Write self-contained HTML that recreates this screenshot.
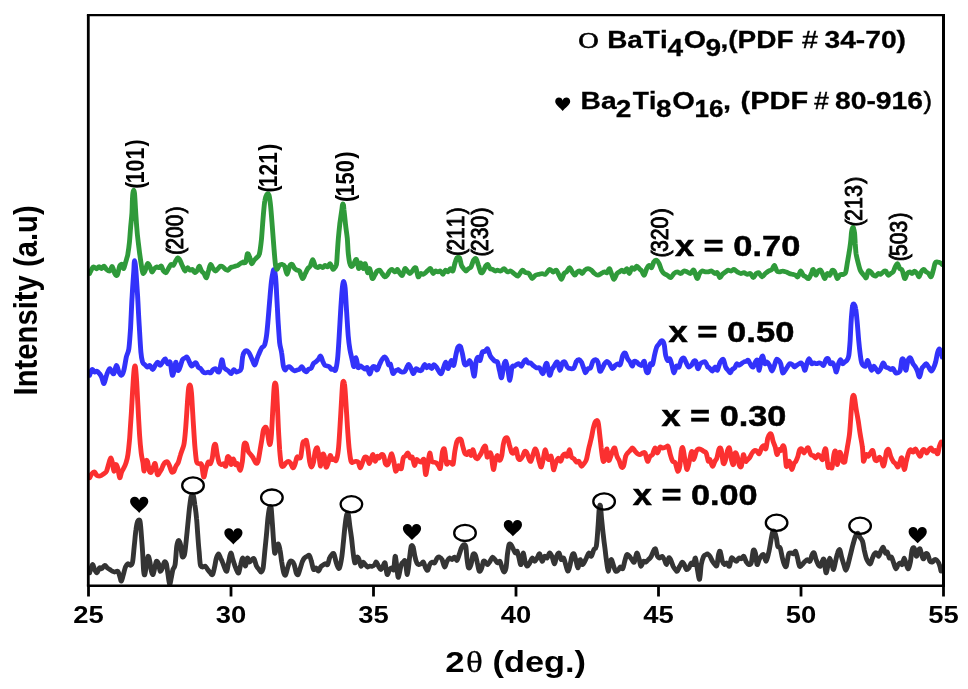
<!DOCTYPE html>
<html><head><meta charset="utf-8"><title>XRD</title>
<style>
html,body{margin:0;padding:0;background:#fff;overflow:hidden;}
svg{display:block;will-change:transform;}
text{font-family:"Liberation Sans",sans-serif;fill:#000;font-kerning:none;}
.b{font-weight:bold;}
.r{font-weight:normal;}
.s{font-family:"Liberation Serif",serif;font-weight:normal;}
</style></head><body>
<svg width="968" height="689" viewBox="0 0 968 689">
<rect width="968" height="689" fill="#fff"/>
<g transform="scale(1.03,1)">
<path d="M87 572.8C87.5 571.5 89 565.1 89.7 564.6C90.5 564 91.1 568.2 91.8 569.5C92.5 570.8 93.3 573.1 94.1 572.8C94.8 572.6 95.9 568.5 96.6 567.9C97.4 567.2 97.8 569.1 98.6 568.7C99.4 568.3 100.9 565.5 101.8 565.4C102.7 565.3 103.4 567.2 104.2 567.9C105 568.5 105.8 569 106.6 569.5C107.4 570 108.2 570.8 109 571.2C109.8 571.6 110.6 572 111.4 572C112.3 572 113.5 570.5 114.3 571.2C115.1 571.8 115.7 574.5 116.2 576.1C116.8 577.7 117.3 581.4 117.8 581.1C118.4 580.8 119.1 576.7 119.8 574.5C120.4 572.2 121.1 568.8 121.8 567C122.6 565.3 123.5 564 124.2 563.7C125 563.5 125.9 565.7 126.7 565.4C127.4 565.1 128.2 565.1 128.7 562.1C129.3 559 129.8 551.5 130.3 546.4C130.9 541.2 131.4 533.8 132 529.9C132.5 525.9 132.9 523 133.6 521.6C134.2 520.1 135.2 518.9 135.8 520.8C136.4 522.6 136.7 528.3 137.1 533.2C137.5 538 138 545.3 138.4 551.3C138.8 557.4 139.1 567.5 139.5 571.2C139.9 574.9 140.2 575.5 140.6 574.5C141.1 573.4 141.7 567.5 142.2 564.6C142.7 561.7 143.3 556.8 143.8 556.3C144.3 555.8 144.9 558.9 145.4 561.3C145.9 563.6 146.5 569.1 147 571.2C147.5 573.3 148.1 575 148.6 574.5C149.2 574 149.7 570 150.2 567.9C150.8 565.8 151.3 561.9 151.8 561.3C152.4 560.6 153.3 562.1 153.9 563.7C154.5 565.3 154.9 570.5 155.5 571.2C156.1 571.8 157 569.3 157.6 567.9C158.3 566.4 158.9 562.7 159.6 562.1C160.2 561.4 160.9 561.8 161.5 563.7C162 565.7 162.6 571.2 163.1 574.5C163.6 577.8 164.2 583.9 164.7 584.4C165.2 584.9 165.8 580.2 166.3 577.8C166.8 575.4 167.3 571.6 167.9 569.5C168.5 567.4 169.4 568.3 170 564.6C170.6 560.9 171.1 550.2 171.6 546.4C172.1 542.5 172.6 540.9 173.2 540.6C173.8 540.3 174.7 542.2 175.3 544.7C175.9 547.2 176.3 554.7 176.9 556.3C177.5 557.9 178.5 557 179.1 554.6C179.7 552.3 180.2 546.2 180.7 541.4C181.2 536.7 181.8 530.2 182.3 524.9C182.9 519.6 183.4 512.9 183.9 508.4C184.5 503.9 185 498.9 185.5 496.8C186.1 494.7 187 493.8 187.6 495.1C188.2 496.5 188.7 501.4 189.2 505.1C189.8 508.8 190.4 513.5 190.8 518.3C191.3 523 191.6 529.5 192 534.8C192.4 540.1 192.8 546.6 193.3 551.3C193.7 556.1 194 562 194.5 564.6C195.1 567.1 196 566.8 196.8 567C197.6 567.3 198.6 565.8 199.4 566.2C200.1 566.6 200.8 568.5 201.6 569.5C202.4 570.6 203.4 572 204.2 572.8C204.9 573.6 205.7 575.5 206.4 574.5C207.1 573.4 207.9 568.9 208.5 566.2C209.1 563.6 209.5 559.9 210.1 558C210.7 556 211.5 553.8 212.2 553.8C212.8 553.8 213.5 556.6 214.1 558C214.7 559.3 215.4 560.5 216 562.1C216.7 563.7 217.5 566.4 218.1 567.9C218.8 569.3 219.6 572.2 220.2 571.2C220.9 570.1 221.5 564.2 222.1 561.3C222.8 558.3 223.4 553.3 224.1 553C224.7 552.7 225.5 557.5 226.1 559.6C226.8 561.7 227.6 564.4 228.2 566.2C228.9 568.1 229.6 570.1 230.2 571.2C230.7 572.2 231.2 573.9 231.8 572.8C232.3 571.8 233 566.9 233.7 564.6C234.3 562.2 235.1 557.7 235.8 558C236.5 558.2 237.4 566.2 238.1 566.2C238.9 566.2 239.6 558.6 240.2 558C240.9 557.3 241.6 561.8 242.3 562.1C243 562.3 243.9 560.1 244.6 559.6C245.3 559.1 245.9 557.7 246.7 558.8C247.4 559.8 248.3 564.5 249.1 566.2C249.8 567.9 250.7 568.6 251.5 569.5C252.2 570.4 252.9 572.3 253.6 572C254.2 571.7 254.9 571.2 255.5 567.9C256 564.6 256.6 556.6 257.1 551.3C257.6 546 258.2 540.4 258.7 534.8C259.2 529.3 259.8 520.9 260.3 516.6C260.8 512.4 261.1 509.8 261.6 508.4C262 506.9 262.7 505.4 263.2 507.5C263.6 509.7 263.9 516.7 264.3 521.6C264.7 526.5 265 533.1 265.4 538.1C265.8 543.1 266.2 551.4 266.7 553C267.2 554.6 267.7 549.5 268.3 548C268.9 546.6 269.7 543.6 270.2 543.9C270.8 544.2 271.3 546.9 271.8 549.7C272.4 552.5 272.9 557.8 273.4 561.3C274 564.7 274.5 568.9 275.1 571.2C275.6 573.4 276.5 575.8 277.1 575.3C277.8 574.8 278.6 570 279.2 567.9C279.9 565.8 280.5 563.1 281.2 562.1C281.8 561 282.8 560.9 283.6 561.3C284.3 561.7 285 562.7 285.6 564.6C286.3 566.4 287 571.2 287.6 572.8C288.2 574.4 288.9 575.3 289.5 574.5C290.1 573.7 290.9 570 291.6 567.9C292.3 565.8 293 562.8 293.7 561.3C294.3 559.7 294.9 558.7 295.6 558C296.3 557.2 297.2 556.7 298 556.3C298.8 555.9 299.7 554.7 300.4 555.5C301.1 556.3 301.7 559 302.3 561.3C303 563.5 303.7 568.5 304.4 569.5C305.1 570.6 306.1 567.6 306.8 567.9C307.6 568.1 308.5 571.3 309.2 571.2C310 571 310.7 568 311.3 567C312 566.1 312.6 565.9 313.2 565.4C313.9 564.9 314.9 563.9 315.7 563.7C316.4 563.6 317.4 565.5 318.1 564.6C318.8 563.6 319.3 559.5 320 558C320.6 556.4 321.4 555.3 322.1 554.6C322.7 554 323.5 552.8 324.2 553.8C324.8 554.9 325.5 559.1 326.1 561.3C326.7 563.4 327.4 566 328 567C328.6 568.1 329 569.3 329.6 567.9C330.2 566.4 331.1 561.9 331.7 558C332.3 554 332.8 548.1 333.3 543.1C333.8 538 334.4 531 334.9 526.5C335.4 522 336 517 336.5 515C337 513 337.6 512.3 338.1 514.1C338.6 516 339.2 522.7 339.7 526.5C340.2 530.4 340.8 533.9 341.3 538.1C341.8 542.3 342.4 549 342.9 553C343.4 557 343.9 562.2 344.5 562.9C345.1 563.6 346 557.7 346.6 557.1C347.3 556.6 347.9 558.1 348.6 559.6C349.2 561.1 349.8 565.8 350.5 566.2C351.1 566.6 351.9 562.3 352.6 562.1C353.2 561.8 354 563.8 354.6 564.6C355.3 565.4 356.2 566.8 356.9 567C357.6 567.3 358.3 566.3 359 566.2C359.7 566.1 360.6 566.5 361.4 566.2C362.2 566 363.2 565.2 363.8 564.6C364.4 563.9 364.8 561.8 365.4 562.1C366 562.3 366.8 565 367.5 566.2C368.2 567.4 369 569.5 369.7 569.5C370.4 569.5 371.2 567.3 371.8 566.2C372.5 565.2 373.3 561.6 373.9 562.9C374.5 564.2 375.1 573.4 375.8 574.5C376.5 575.5 377.5 570.6 378.2 569.5C379 568.5 379.7 567.9 380.3 567.9C381 567.9 381.7 571.4 382.3 569.5C382.8 567.7 383.2 555.2 383.9 556.3C384.5 557.4 385.7 573.2 386.3 576.1C386.8 579 387 576.3 387.5 574.5C388 572.6 389 566.5 389.6 564.6C390.2 562.6 390.9 562.6 391.5 562.1C392.1 561.6 392.8 559.3 393.4 561.3C394.1 563.2 394.9 575 395.5 574.5C396.2 574 397 562.4 397.6 558C398.2 553.5 398.7 548.1 399.2 546.4C399.8 544.7 400.6 545.6 401.1 547.2C401.7 548.8 402.2 553.8 402.8 556.3C403.3 558.8 404 561.6 404.7 562.9C405.3 564.2 406 564.4 406.8 564.6C407.5 564.7 408.5 564.1 409.2 563.7C409.9 563.3 410.5 561.4 411.1 562.1C411.7 562.7 412.5 566.5 413.2 567.9C413.9 569.2 414.6 570.9 415.3 570.3C415.9 569.8 416.5 565.9 417.2 564.6C417.9 563.2 418.8 562.3 419.6 562.1C420.4 561.8 421.2 563.6 422 562.9C422.8 562.2 423.6 558.9 424.4 558C425.2 557 426.1 556.9 426.8 557.1C427.6 557.4 428.5 558 429.2 559.6C430 561.2 430.9 566.8 431.6 567C432.4 567.3 433.3 562.7 434 561.3C434.8 559.8 435.7 558.2 436.5 558C437.2 557.7 438.1 559.7 438.9 559.6C439.6 559.5 440.5 557 441.3 557.1C442 557.3 443 560.8 443.7 560.4C444.4 560 445.1 556.6 445.8 554.6C446.5 552.7 447.3 549.6 448 548C448.7 546.4 449.4 545 450.1 544.7C450.8 544.5 451.7 544.3 452.2 546.4C452.7 548.5 452.9 554.5 453.3 558C453.7 561.4 454.3 566.8 454.9 567.9C455.5 568.9 456.6 566.7 457.3 564.6C458 562.4 458.6 556.2 459.2 554.6C459.9 553.1 460.7 553.3 461.3 554.6C462 556 462.8 560.3 463.4 562.9C464.1 565.6 464.6 570.4 465.3 571.2C466 572 467.1 569.5 467.7 567.9C468.4 566.3 468.8 562.2 469.3 561.3C469.9 560.3 470.8 561.6 471.4 562.1C472.1 562.6 472.7 564.7 473.4 564.6C474.1 564.4 475 562.4 475.8 561.3C476.5 560.1 477.4 557.4 478.2 557.1C478.9 556.9 479.8 558.7 480.6 559.6C481.4 560.5 482.2 562.6 483 562.9C483.8 563.2 484.7 560.5 485.4 561.3C486.1 562 486.8 566.1 487.5 567.9C488.1 569.6 488.8 572 489.4 572C490 572 490.8 570.6 491.3 567.9C491.8 565.1 492.2 558.3 492.6 554.6C493.1 550.9 493.7 546.3 494.2 544.7C494.8 543.1 495.5 544.1 496.1 544.7C496.8 545.4 497.6 547.5 498.2 548.9C498.9 550.2 499.7 552.6 500.3 553C501 553.4 501.7 550.5 502.2 551.3C502.8 552.1 503.3 555.8 503.9 558C504.4 560.1 505.1 565.4 505.8 564.6C506.4 563.8 507.2 553.4 507.9 553C508.5 552.6 509.3 560 509.9 562.1C510.6 564.2 511.2 566.1 511.9 566.2C512.6 566.3 513.5 564.2 514.3 562.9C515.1 561.6 515.9 558.2 516.7 558C517.5 557.7 518.3 561.3 519.1 561.3C519.9 561.3 520.7 559.1 521.5 558C522.3 556.8 523.1 553.3 523.9 553.8C524.7 554.3 525.5 560.9 526.3 561.3C527.1 561.7 528 556.8 528.7 556.3C529.5 555.8 530.4 558.5 531.1 558C531.9 557.4 532.8 553.3 533.5 553C534.3 552.7 535.5 555.5 535.9 556.3C536.4 557.1 536 556.8 536.4 558C536.8 559.1 537.8 564 538.5 563.7C539.1 563.5 539.7 558 540.4 556.3C541.1 554.6 542.1 552.5 542.8 553C543.5 553.5 544.2 558.8 544.9 559.6C545.6 560.4 546.4 557.2 547.1 558C547.8 558.7 548.6 562.4 549.2 564.6C549.9 566.7 550.7 570.9 551.3 571.2C552 571.4 552.6 568.6 553.2 566.2C553.9 563.8 554.5 558.3 555.2 556.3C555.8 554.3 556.6 553 557.2 553.8C557.9 554.6 558.7 559 559.3 561.3C560 563.5 560.6 568.1 561.3 567.9C561.9 567.6 562.5 560.1 563.2 559.6C563.8 559.1 564.6 564.2 565.3 564.6C565.9 565 566.7 563.1 567.4 562.1C568 561 568.6 559.4 569.3 558C570 556.5 570.9 553.3 571.7 553C572.5 552.7 573.3 556.8 574.1 556.3C574.9 555.8 575.7 551.3 576.5 549.7C577.3 548.1 578.3 549.8 578.9 546.4C579.6 542.9 580.1 534.3 580.5 528.2C581 522.1 581.4 511.9 581.8 508.4C582.2 504.8 582.6 504.3 582.9 505.9C583.3 507.5 583.6 513.7 584 518.3C584.5 522.9 585.1 530 585.7 534.8C586.2 539.6 586.7 543.8 587.3 548C587.8 552.3 588.3 557.6 588.9 561.3C589.4 565 590 570.9 590.5 571.2C591 571.4 591.6 564.8 592.1 562.9C592.6 561.1 593.1 559.1 593.7 559.6C594.3 560.1 595.1 564.4 595.8 566.2C596.4 568.1 597.2 570.5 597.8 571.2C598.5 571.8 599.4 571 600.1 570.3C600.8 569.7 601.5 567.3 602.2 567C602.9 566.8 603.9 569.6 604.6 568.7C605.3 567.8 605.9 563.5 606.5 561.3C607.2 559 607.9 555.4 608.6 554.6C609.3 553.9 610.2 555.5 611 556.3C611.8 557.1 612.6 558.7 613.4 559.6C614.2 560.5 615.1 563.1 615.8 562.1C616.6 561 617.5 553.4 618.2 553C619 552.6 620 557.5 620.6 559.6C621.3 561.7 621.6 566 622.2 566.2C622.9 566.5 623.9 561.9 624.6 561.3C625.4 560.6 626.3 562.3 627.1 562.1C627.8 561.8 628.7 560.4 629.5 559.6C630.2 558.8 631.1 558.4 631.9 557.1C632.6 555.8 633.6 552.7 634.3 551.3C635 550 635.7 548.1 636.4 548.9C637 549.7 637.6 554.8 638.3 556.3C639 557.8 640 558 640.7 558C641.4 558 642.1 556 642.8 556.3C643.5 556.6 644.3 558.3 645 559.6C645.7 560.9 646.4 564.8 647.1 564.6C647.8 564.3 648.6 558.7 649.2 558C649.8 557.2 650.4 558.3 651.1 559.6C651.8 560.9 652.8 564.6 653.5 566.2C654.3 567.8 655 568.7 655.6 569.5C656.3 570.3 656.9 571.7 657.5 571.2C658.2 570.6 659.2 567.7 660 566.2C660.7 564.8 661.7 562.3 662.4 562.1C663.1 561.8 663.6 563.4 664.3 564.6C664.9 565.8 665.7 569 666.4 569.5C667.1 570 668 568.9 668.8 567.9C669.5 566.8 670.5 563.4 671.2 562.9C671.9 562.4 672.6 565.4 673.3 564.6C673.9 563.8 674.6 557.2 675.2 558C675.8 558.7 676.5 566.1 677.1 569.5C677.8 573 678.6 580.2 679.2 579.4C679.8 578.6 680.2 568.3 680.8 564.6C681.5 560.9 682.5 557.9 683.2 556.3C684 554.7 685 555 685.6 554.6C686.2 554.2 686.3 553.6 686.9 553.8C687.5 554.1 688.5 555.1 689.3 556.3C690.1 557.5 690.9 559.9 691.7 561.3C692.5 562.6 693.4 563.9 694.1 564.6C694.8 565.2 695.5 567 696 565.4C696.6 563.8 697.1 556.9 697.6 554.6C698.1 552.4 698.6 550.3 699.2 551.3C699.8 552.4 700.6 559.1 701.3 561.3C702 563.4 702.7 564.3 703.4 564.6C704.1 564.8 704.9 562.6 705.6 562.9C706.4 563.2 707.5 567 708.2 566.2C708.9 565.4 709.4 559 710.1 558C710.8 556.9 711.8 559.1 712.5 559.6C713.3 560.1 714.2 561.5 715 561.3C715.7 561 716.6 558.3 717.4 558C718.1 557.6 719 559 719.8 558.8C720.5 558.5 721.4 555.8 722.2 556.3C722.9 556.8 723.8 560.8 724.6 562.1C725.4 563.4 726.2 564.4 727 564.6C727.8 564.7 728.7 565.2 729.4 562.9C730.1 560.7 730.7 552.1 731.3 550.5C732 548.9 732.8 550.7 733.4 553C734 555.2 734.4 563.5 735 564.6C735.6 565.6 736.5 560.9 737.1 559.6C737.7 558.3 738.3 557.1 739 556.3C739.7 555.5 740.7 553.9 741.4 554.6C742.2 555.4 743.1 561.5 743.8 561.3C744.6 561 745.5 556.2 746.2 553C747 549.8 747.7 544.9 748.3 541.4C749 538 749.6 533 750.3 531.5C750.9 530 751.6 531.3 752.2 532.3C752.8 533.4 753.3 535.9 753.8 538.1C754.3 540.4 754.5 544.8 755.1 546.4C755.7 548 756.8 546.2 757.5 548C758.2 549.9 758.9 555.3 759.6 558C760.2 560.6 760.9 563.2 761.5 564.6C762.1 565.9 762.8 567.8 763.4 566.2C764.1 564.6 764.8 556.8 765.5 554.6C766.2 552.5 767.1 553.1 767.9 553C768.7 552.9 769.6 554.1 770.3 553.8C771 553.6 771.8 550.7 772.4 551.3C773 552 773.7 555.6 774.3 558C774.9 560.3 775.5 565.2 776.3 566.2C777 567.3 778 565.4 778.8 564.6C779.7 563.8 780.7 562 781.6 561.3C782.4 560.5 783.2 559.6 784 559.6C784.7 559.6 785.6 562 786.4 561.3C787.1 560.5 787.8 556 788.5 554.6C789.1 553.3 789.8 552.2 790.4 553C791 553.8 791.7 557.8 792.3 559.6C792.9 561.5 793.7 563.5 794.4 564.6C795.1 565.6 795.8 566.7 796.5 566.2C797.1 565.7 797.8 562.3 798.4 561.3C799 560.2 799.4 557.8 800 559.6C800.6 561.5 801.3 572 801.9 572.8C802.6 573.6 803.4 566.9 804 564.6C804.6 562.2 805 558 805.6 558C806.2 558 807.1 562.7 807.7 564.6C808.3 566.4 808.8 570 809.3 569.5C809.9 569 810.6 563.9 811.2 561.3C811.9 558.6 812.5 554.8 813.2 553C813.8 551.1 814.6 548.9 815.3 549.7C815.9 550.5 816.7 555.6 817.3 558C818 560.3 818.6 562.6 819.3 564.6C819.9 566.5 820.5 570.3 821.2 570.3C821.8 570.3 822.6 567.1 823.3 564.6C824 562 824.9 557.8 825.7 554.6C826.5 551.5 827.3 547.6 828.1 544.7C828.9 541.8 829.7 538.3 830.5 536.5C831.3 534.6 832.2 533 832.9 533.2C833.6 533.3 834.3 536 835 537.3C835.7 538.6 836.8 539.4 837.4 541.4C838.1 543.4 838.5 547 839 549.7C839.6 552.3 840.3 556 841 558C841.6 559.9 842.4 561.2 843 562.1C843.7 563 844.5 564.4 845.1 563.7C845.8 563.1 846.4 559.5 847.1 558C847.7 556.4 848.3 554.6 849 553.8C849.6 553 850.4 552.6 851.1 553C851.7 553.4 852.5 556.6 853.1 556.3C853.8 556 854.4 552.8 855.1 551.3C855.8 549.9 856.8 546.9 857.5 547.2C858.2 547.5 858.9 552.2 859.6 553C860.2 553.8 860.9 551.4 861.5 552.2C862.1 553 862.8 557.2 863.4 558C864.1 558.7 864.8 556.3 865.5 557.1C866.2 557.9 866.9 561.1 867.6 562.9C868.3 564.8 869.1 568.4 869.8 568.7C870.5 569 871.3 565.5 871.9 564.6C872.6 563.6 873.4 562.9 874 562.9C874.7 562.9 875.3 565.4 875.9 564.6C876.6 563.8 877.2 558 877.9 558C878.5 558 879.3 562.8 879.9 564.6C880.6 566.3 881.4 569.2 882 568.7C882.7 568.2 883.4 564.3 884 561.3C884.5 558.2 885 551.8 885.6 549.7C886.1 547.6 886.8 547 887.5 548C888.1 549.1 889 555.8 889.6 556.3C890.2 556.8 890.6 552.5 891.2 551.3C891.8 550.1 892.6 548.1 893.3 548.9C893.9 549.7 894.6 554.7 895.2 556.3C895.8 557.9 896.2 559.2 896.8 558.8C897.4 558.4 898.1 554.5 898.7 553.8C899.4 553.2 900.1 553.5 900.8 554.6C901.5 555.8 902.2 560.1 902.9 561.3C903.6 562.4 904.4 562.3 905.1 562.1C905.8 561.8 906.5 559.9 907.2 559.6C907.9 559.3 908.9 559.6 909.6 560.4C910.4 561.2 911.4 562.8 912 564.6C912.7 566.3 913.4 570.1 913.6 571.2" fill="none" stroke="#343434" stroke-width="4.75" stroke-linejoin="round" stroke-linecap="round"/>
<path d="M87 477.8C87.4 477.1 88.5 474.6 89.3 473.7C90 472.7 91.1 471.7 91.8 472C92.6 472.3 93.1 474.6 93.8 475.3C94.5 476 95.4 476.1 96.2 476.1C96.9 476.1 97.8 475.7 98.6 475.3C99.3 474.9 100.2 474.3 101 473.7C101.7 473 102.7 472.6 103.4 471.2C104.1 469.7 104.7 466.7 105.3 464.6C106 462.4 106.8 458.3 107.4 458C108 457.6 108.5 460 109 462.1C109.5 464.2 110.1 470.8 110.6 471.2C111.1 471.6 111.6 465.1 112.2 464.6C112.8 464 113.7 465.8 114.3 467.9C114.9 470 115.6 477.1 116.2 477.8C116.8 478.4 117.5 473.6 118.1 472C118.8 470.4 119.6 469.3 120.2 467.9C120.9 466.4 121.7 465 122.3 462.9C123 460.8 123.7 458.6 124.2 454.6C124.8 450.7 125.3 444.7 125.9 438.1C126.4 431.5 126.9 421.8 127.5 413.3C128 404.9 128.6 392.4 129.1 385.2C129.5 378.1 130 371.6 130.3 368.7C130.7 365.8 131.1 365.2 131.5 367C131.8 368.9 132.2 374.2 132.6 380.3C133 386.3 133.4 396.3 133.9 405.1C134.3 413.8 135 427.1 135.5 434.8C136 442.5 136.6 448.6 137.1 453C137.6 457.4 138.2 459.2 138.7 462.1C139.2 465 139.5 471.3 140 471.2C140.4 471 141.1 462.8 141.6 461.3C142.1 459.7 142.6 459.7 143.2 461.3C143.7 462.8 144.5 469.5 145.1 471.2C145.7 472.9 146.4 472.8 147 472C147.7 471.2 148.5 467.5 149.1 466.2C149.7 464.9 150.1 462.4 150.7 463.7C151.3 465.1 152.2 473 152.8 474.5C153.5 475.9 154.1 473.6 154.7 472.8C155.4 472 156 470.8 156.7 469.5C157.3 468.2 158.1 465.8 158.7 464.6C159.4 463.4 160.2 462.5 160.8 462.1C161.5 461.7 162.1 461.4 162.8 462.1C163.4 462.7 164 464.6 164.7 466.2C165.3 467.8 166.1 471.2 166.8 472C167.4 472.8 168.2 472.1 168.9 471.2C169.5 470.2 170.1 467.7 170.8 466.2C171.5 464.8 172.5 463.9 173.2 462.1C173.9 460.2 174.6 456.8 175.3 454.6C175.9 452.5 176.6 450.7 177.2 448.9C177.8 447 178.3 446.6 178.8 443.1C179.3 439.5 179.9 433.2 180.4 426.5C180.9 419.9 181.6 408.1 182 401.8C182.5 395.4 182.8 389.4 183.3 386.9C183.8 384.4 184.4 384.5 184.9 386C185.4 387.6 185.8 391.1 186.2 396.8C186.6 402.5 187.1 413.7 187.6 421.6C188.1 429.5 188.7 440 189.2 446.4C189.8 452.7 190.2 458.5 190.8 461.3C191.5 464 192.5 463.2 193.3 463.7C194 464.3 194.9 462.4 195.7 464.6C196.4 466.7 197.1 476.2 197.7 477C198.4 477.8 199 471.9 199.7 469.5C200.4 467.1 201.4 463 202.1 462.1C202.8 461.2 203.5 464.4 204.2 463.7C204.8 463.1 205.5 460.7 206.1 458C206.7 455.2 207.2 448.5 207.7 446.4C208.2 444.3 208.8 443.4 209.3 444.7C209.8 446 210.3 451.7 210.9 454.6C211.5 457.6 212.2 461.3 212.8 462.9C213.5 464.5 214.2 464.4 214.9 464.6C215.6 464.7 216.6 463.5 217.3 463.7C218 464 218.7 467.3 219.2 466.2C219.8 465.2 220.3 458.4 220.9 457.1C221.4 455.8 222.3 456.8 222.9 458C223.5 459.1 224 464.4 224.5 464.6C225.1 464.7 226 458.8 226.6 458.8C227.3 458.8 227.9 463.8 228.6 464.6C229.2 465.4 229.7 462.8 230.5 463.7C231.3 464.7 232.6 470.7 233.4 470.3C234.1 470 234.7 465.4 235.3 461.3C235.9 457.2 236.3 447.5 236.9 444.7C237.5 442 238.4 442.8 239.1 443.9C239.8 445 240.3 449.6 241 451.3C241.7 453.1 242.7 453.6 243.4 454.6C244.2 455.7 245.1 456.6 245.8 458C246.6 459.3 247.5 462.2 248.3 462.9C249 463.6 249.7 463.9 250.3 462.1C251 460.2 251.7 454.9 252.3 451.3C252.9 447.8 253.6 443.2 254.2 439.8C254.8 436.3 255.1 431.8 255.8 429.9C256.5 427.9 257.7 426.6 258.4 427.4C259 428.2 259.4 432 260 434.8C260.5 437.6 261.3 444.7 261.9 444.7C262.5 444.7 263 441.2 263.5 434.8C264 428.5 264.6 413 265.1 405.1C265.6 397.1 265.9 388.4 266.4 385.2C266.9 382 267.6 382.6 268 385.2C268.4 387.9 268.8 395.1 269.1 401.8C269.5 408.4 269.9 418.9 270.2 426.5C270.6 434.2 271.1 443.6 271.5 449.7C272 455.8 272.6 461.9 273.1 464.6C273.7 467.2 274.3 466.5 275.1 466.2C275.8 466 276.9 463.7 277.6 462.9C278.4 462.1 279.2 461.3 279.9 461.3C280.6 461.3 281.2 461.9 282 462.9C282.7 464 283.7 467.6 284.4 467.9C285.1 468.1 285.6 466.3 286.3 464.6C286.9 462.8 287.7 458.2 288.4 457.1C289 456.1 289.9 458.1 290.5 458C291.1 457.8 291.5 458.7 292.1 456.3C292.6 453.9 293.4 445.5 294 443.1C294.6 440.7 295.4 441.8 295.9 441.4C296.5 441 297 439.3 297.5 440.6C298 441.9 298.6 446.2 299.1 449.7C299.6 453.1 300.2 459.3 300.7 462.1C301.2 464.9 301.7 467 302.3 467C302.9 467 303.8 464.6 304.4 462.1C305 459.6 305.4 453.6 306 451.3C306.6 449.1 307.5 447.2 308.1 448C308.7 448.8 309.2 453.4 309.7 456.3C310.2 459.2 310.8 466.5 311.3 466.2C311.9 466 312.7 456.2 313.2 454.6C313.8 453.1 314.3 454.3 314.9 456.3C315.4 458.3 315.9 465.9 316.5 467C317 468.2 317.7 465.6 318.4 463.7C319 461.9 319.8 456.1 320.5 455.5C321.1 454.8 321.9 459.1 322.6 459.6C323.2 460.1 323.9 458.6 324.5 458.8C325.1 458.9 325.8 461.9 326.4 460.4C327 459 327.9 455.1 328.5 449.7C329.1 444.3 329.6 434.7 330.1 426.5C330.6 418.3 331.3 405.5 331.7 398.4C332.1 391.4 332.4 385.1 332.8 382.7C333.3 380.4 334 380.8 334.4 383.6C334.9 386.3 335.3 393.2 335.7 400.1C336.2 407 336.8 418.9 337.3 426.5C337.8 434.2 338.4 442.5 338.9 448C339.5 453.6 340.2 459 340.8 461.3C341.5 463.5 342.2 462.1 342.9 462.1C343.7 462.1 344.6 461.3 345.3 461.3C346.1 461.3 347 461 347.7 462.1C348.5 463.1 349.1 467.9 349.8 467.9C350.5 467.9 351.4 463.8 352.1 462.1C352.8 460.4 353.4 457.8 354.2 457.1C354.9 456.5 355.9 456.9 356.6 458C357.3 459 357.9 463.7 358.5 463.7C359.1 463.7 360 459.4 360.6 458C361.2 456.5 361.6 454.1 362.2 454.6C362.8 455.2 363.6 461 364.3 461.3C364.9 461.5 365.6 456.8 366.2 456.3C366.8 455.8 367.5 458.2 368.1 458C368.8 457.7 369.5 454.9 370.2 454.6C370.9 454.4 372 454.8 372.6 456.3C373.3 457.8 373.6 462.4 374.2 463.7C374.9 465.1 375.9 465.5 376.6 464.6C377.4 463.6 378.1 459.7 378.7 458C379.3 456.2 379.8 453.3 380.3 453.8C380.9 454.3 381.6 458.5 382.3 461.3C382.9 464 383.5 470.4 384.2 471.2C384.8 472 385.7 467 386.3 466.2C386.8 465.4 387 465.8 387.5 466.2C388 466.6 389 470 389.6 468.7C390.2 467.4 390.9 459.9 391.5 458C392.1 456 392.7 457.1 393.4 456.3C394.2 455.5 395.2 452.7 396 453C396.8 453.3 397.6 457.3 398.3 458C399 458.6 399.7 455.9 400.3 457.1C401 458.3 401.8 465 402.4 465.4C403.1 465.8 403.7 460.3 404.4 459.6C405.1 458.9 406 460.9 406.8 461.3C407.5 461.7 408.4 462.3 409.2 462.1C409.9 461.8 410.9 457.6 411.6 459.6C412.2 461.6 412.6 473.7 413.2 474.5C413.8 475.3 414.6 468 415.3 464.6C415.9 461.1 416.6 453.5 417.2 453C417.8 452.5 418.5 459.8 419.1 461.3C419.8 462.7 420.5 461.8 421.2 462.1C421.9 462.3 422.8 462.2 423.6 462.9C424.4 463.6 425.4 465.4 426 466.2C426.7 467 427 470.2 427.6 467.9C428.2 465.5 429.1 454.2 429.7 451.3C430.4 448.4 431 447.7 431.6 449.7C432.3 451.7 432.9 461.8 433.6 463.7C434.2 465.7 434.9 462.2 435.6 462.1C436.4 462 437.4 462.6 438.1 462.9C438.7 463.2 439.4 465.6 440 463.7C440.5 461.9 441 454.9 441.6 451.3C442.2 447.8 443 443.4 443.7 441.4C444.3 439.4 445.1 439.2 445.8 438.9C446.4 438.7 447.1 438.6 447.7 439.8C448.3 441 448.7 444.3 449.3 446.4C449.9 448.5 450.6 451.7 451.2 453C451.9 454.3 452.6 454.9 453.3 454.6C454 454.4 454.7 451.2 455.4 451.3C456 451.5 456.7 455.7 457.3 455.5C457.9 455.2 458.6 449.4 459.2 449.7C459.9 450 460.7 455.7 461.3 457.1C462 458.6 462.8 458.9 463.4 458.8C464.1 458.6 464.7 457.2 465.3 456.3C466 455.4 466.6 454.3 467.3 453C467.9 451.7 468.7 449.1 469.3 448C470 447 470.8 444.9 471.4 446.4C472 447.8 472.5 456.1 473 457.1C473.6 458.2 474.3 453.4 475 453C475.6 452.6 476.2 452 476.9 454.6C477.5 457.3 478.3 468.7 479 469.5C479.6 470.3 480.4 461.9 481.1 459.6C481.7 457.4 482.4 455.3 483 455.5C483.6 455.6 484.3 460.3 484.9 460.4C485.6 460.6 486.4 458.8 487 456.3C487.6 453.8 488.1 447.5 488.6 444.7C489.1 442 489.6 440 490.2 438.9C490.9 437.9 491.9 437.2 492.6 438.1C493.3 439 493.9 442.5 494.5 444.7C495.2 447 496 450.8 496.6 452.2C497.3 453.5 498 453.5 498.7 453C499.4 452.5 500.3 448.1 501 448.9C501.7 449.7 502.4 456.2 503 458C503.7 459.7 504.4 459.9 505.1 459.6C505.8 459.3 506.7 457.6 507.4 456.3C508.1 455 508.8 451.9 509.5 451.3C510.1 450.8 510.9 451.8 511.6 453C512.2 454.2 512.9 457.5 513.5 458.8C514.1 460.1 514.8 461.9 515.4 461.3C516 460.6 516.8 456.6 517.5 454.6C518.2 452.7 518.9 449.1 519.6 448.9C520.2 448.6 520.9 451 521.5 453C522.1 455 522.8 459 523.4 461.3C524.1 463.5 524.8 467.6 525.5 467C526.2 466.5 527 460.7 527.6 458C528.2 455.2 528.9 449.7 529.5 449.7C530.1 449.7 530.8 456.4 531.5 458C532.1 459.5 532.9 459.9 533.5 459.6C534.1 459.3 534.6 454.8 535.1 456.3C535.7 457.8 536.8 466.7 537.2 468.7C537.7 470.7 537.5 469.9 538 468.7C538.4 467.5 539.4 463 540.1 461.3C540.8 459.5 541.6 458 542.3 458C543 458 543.7 461.7 544.4 461.3C545.1 460.9 545.8 456.7 546.5 455.5C547.2 454.3 548.1 453.7 548.7 453.8C549.4 454 550.2 457 550.8 456.3C551.5 455.6 552.3 449.6 552.9 449.7C553.6 449.8 554.1 455.7 554.8 457.1C555.5 458.6 556.5 458 557.2 458.8C558 459.6 558.9 461.7 559.7 462.1C560.4 462.5 561.3 460.6 562.1 461.3C562.8 461.9 563.7 465.8 564.5 466.2C565.2 466.6 566.1 464.8 566.9 463.7C567.6 462.7 568.5 462.1 569.3 459.6C570.1 457.1 570.9 451.5 571.7 448C572.5 444.6 573.4 441.3 574.1 438.1C574.8 434.9 575.4 430.8 576 428.2C576.7 425.6 577.4 422.6 578.1 421.6C578.8 420.5 579.9 419.7 580.5 421.6C581.2 423.4 581.6 428.9 582.1 433.2C582.6 437.4 583.2 443.5 583.7 448C584.3 452.5 585 459.9 585.7 461.3C586.3 462.6 587.1 458.3 587.7 456.3C588.3 454.3 588.8 448.2 589.3 448.9C589.9 449.5 590.4 459.2 590.9 460.4C591.5 461.6 592.4 457.9 593 456.3C593.7 454.7 594.3 451.8 595 450.5C595.6 449.2 596.2 447.1 596.9 448C597.5 449 598.3 454.3 599 456.3C599.6 458.3 600.4 458.7 601.1 460.4C601.8 462.1 602.6 466.1 603.3 467C604 468 604.7 467.9 605.4 466.2C606.1 464.5 606.8 458.4 607.5 456.3C608.1 454.2 608.7 453.9 609.4 453C610.1 452.1 611 451.3 611.8 450.5C612.6 449.7 613.4 447.9 614.2 448C615 448.2 615.9 450.4 616.6 451.3C617.4 452.3 618.3 453.3 619 453.8C619.8 454.3 620.7 454.8 621.4 454.6C622.2 454.5 623.1 453.3 623.8 453C624.6 452.7 625.5 451.7 626.3 453C627 454.3 627.9 460.7 628.7 461.3C629.4 461.8 630.3 457.4 631.1 456.3C631.8 455.2 632.7 456 633.5 454.6C634.2 453.3 635.1 448.3 635.9 448C636.7 447.8 637.5 453.1 638.3 453C639.1 452.9 639.9 448 640.7 447.2C641.5 446.4 642.2 448 643.1 448C644 448 645.4 447.5 646.3 447.2C647.2 446.9 648 445.2 648.7 446.4C649.4 447.6 650.1 452.3 650.8 454.6C651.5 457 652.3 459.9 653.1 461.3C653.8 462.6 654.9 461.3 655.6 462.9C656.4 464.5 657.2 470.6 657.9 471.2C658.6 471.7 659.4 469.7 660 466.2C660.5 462.8 661 452.5 661.6 449.7C662.1 446.9 662.6 447 663.2 448.9C663.8 450.7 664.6 458 665.2 461.3C665.9 464.6 666.5 469.8 667.2 469.5C667.9 469.3 668.9 462.5 669.6 459.6C670.3 456.7 671 451.3 671.7 451.3C672.3 451.3 672.9 459.6 673.6 459.6C674.3 459.6 675.2 453.1 676 451.3C676.8 449.6 677.6 449.1 678.4 448.9C679.2 448.6 680 449.3 680.8 449.7C681.6 450.1 682.5 450.8 683.2 451.3C684 451.9 684.9 451.4 685.6 453C686.3 454.6 687.1 460.2 687.7 461.3C688.3 462.3 688.6 458.8 689.3 459.6C689.9 460.4 690.9 466 691.7 466.2C692.5 466.5 693.4 462.6 694.1 461.3C694.8 459.9 695.4 459.9 696 458C696.7 456 697.4 450.2 698.1 448.9C698.8 447.5 699.6 447.4 700.2 449.7C700.8 451.9 701.5 461.1 702.1 462.9C702.7 464.8 703.4 463.1 704 461.3C704.7 459.4 705.5 453.5 706.1 451.3C706.8 449.2 707.6 446.7 708.2 448C708.9 449.4 709.5 457 710.1 459.6C710.8 462.2 711.5 465.6 712.1 464.6C712.6 463.5 713.1 454.3 713.7 453C714.3 451.7 715.1 454.3 715.8 456.3C716.4 458.3 717.2 463.8 717.8 465.4C718.5 467 719.2 467.9 719.8 466.2C720.4 464.5 721.1 455.4 721.7 454.6C722.3 453.9 723.1 460.5 723.8 461.3C724.4 462 725.2 460.3 725.9 459.6C726.6 458.9 727.4 458.2 728.1 457.1C728.8 456.1 729.5 454 730.2 453C730.9 451.9 731.8 450.8 732.6 450.5C733.4 450.2 734.3 450.8 735 451.3C735.7 451.9 736.4 454.3 737.1 453.8C737.8 453.3 738.7 449.4 739.3 448C740 446.7 740.8 445.4 741.4 445.6C742.1 445.7 742.9 450 743.5 448.9C744.2 447.7 744.8 440.5 745.4 438.1C746.1 435.7 746.8 434.5 747.4 434C747.9 433.5 748.5 433.6 749 434.8C749.5 436 750 439.4 750.6 441.4C751.2 443.4 752.1 445.1 752.7 447.2C753.3 449.3 753.7 454.2 754.3 454.6C754.9 455 755.7 450.3 756.4 449.7C757 449 757.7 451.2 758.3 450.5C758.9 449.9 759.6 445.7 760.2 445.6C760.8 445.4 761.3 446.4 761.8 449.7C762.3 453 762.8 464.4 763.4 466.2C764 468.1 764.9 461.8 765.5 461.3C766.1 460.7 766.6 461.6 767.1 462.9C767.6 464.2 768.1 469.4 768.7 469.5C769.3 469.7 770.2 465.1 770.8 463.7C771.4 462.4 772.1 462.4 772.7 461.3C773.3 460.1 774.1 458.1 774.7 456.3C775.2 454.4 775.7 450.9 776.3 449.7C776.8 448.5 777.7 448.3 778.3 448.9C779 449.4 779.7 452.9 780.4 453C781.1 453.1 782 450.5 782.7 449.7C783.4 448.9 784 447.2 784.8 448C785.5 448.8 786.4 453.5 787.2 454.6C787.9 455.8 788.8 454.9 789.6 455.5C790.3 456 791.2 458.1 792 458C792.8 457.8 793.6 454.8 794.4 454.6C795.2 454.5 796.1 456.3 796.8 457.1C797.5 457.9 798.2 460.5 798.7 459.6C799.3 458.7 799.8 452.9 800.3 451.3C800.8 449.8 801.3 447.2 801.9 449.7C802.5 452.2 803.4 464.7 804 467C804.7 469.4 805.5 464.4 806.1 464.6C806.7 464.7 807.1 469.5 807.7 467.9C808.3 466.3 809.1 457.3 809.6 454.6C810.2 452 810.7 449.8 811.2 451.3C811.8 452.9 812.3 464.3 812.8 464.6C813.4 464.8 814.2 454.7 814.8 453C815.3 451.3 815.9 452.5 816.4 453.8C816.9 455.1 817.4 459.9 818 461.3C818.6 462.6 819.6 462.5 820.1 462.1C820.5 461.7 820.3 461.4 820.7 458.9C821.1 456.5 822.2 450.6 822.8 446.7C823.4 442.8 824.3 438.4 824.7 434.5C825.2 430.5 825.4 425.9 825.7 421.9C826 418 826.2 413.3 826.5 409.7C826.8 406.1 827.2 401.6 827.4 399.4C827.7 397.2 827.9 396.7 828.1 396C828.3 395.3 828.4 395 828.6 395C828.8 395 829 395.3 829.2 396C829.4 396.7 829.5 397.2 829.9 399.4C830.2 401.6 830.7 406.1 831.3 409.7C831.9 413.3 832.8 418 833.4 421.9C834 425.9 834.5 430.5 835.2 434.5C835.8 438.4 836.8 443.1 837.2 446.7C837.7 450.3 837.8 454.6 838 457C838.2 459.3 838.1 461.8 838.5 461.4C839 461.1 840.2 455.5 841 454.6C841.7 453.8 842.4 456.6 843 456.3C843.7 456 844.4 453.9 845.1 453C845.8 452.1 846.7 449.5 847.4 450.5C848.1 451.6 848.8 458 849.5 459.6C850.1 461.2 850.9 460.8 851.5 460.4C852.2 460 853.1 457.1 853.8 457.1C854.5 457.1 855.3 459 855.9 460.4C856.5 461.9 857 466.1 857.5 466.2C858 466.3 858.6 463.6 859.1 461.3C859.6 458.9 860.1 453.2 860.7 451.3C861.3 449.5 862.1 448.9 862.8 449.7C863.4 450.5 864 454.4 864.7 456.3C865.4 458.1 866.3 460.1 867.1 461.3C867.9 462.4 868.7 462.8 869.5 463.7C870.3 464.7 871.2 467.4 871.9 467C872.6 466.6 873.4 462.7 874 461.3C874.6 459.8 875 456.6 875.6 458C876.2 459.3 877.2 469 877.9 469.5C878.6 470 879.3 463.9 879.9 461.3C880.6 458.6 881.4 454.8 882 453C882.7 451.1 883.3 449.8 884 449.7C884.7 449.6 885.6 452.3 886.4 452.2C887.1 452 888 448.7 888.8 448.9C889.5 449 890.4 451.8 891.2 453C892 454.2 892.9 456.7 893.6 456.3C894.3 455.9 894.9 451.6 895.5 450.5C896.2 449.5 896.9 449.3 897.6 449.7C898.3 450.1 899 453 899.7 453C900.4 453 901.2 450.5 901.9 449.7C902.6 448.9 903.4 447.8 904 448C904.7 448.3 905.4 450.9 906.1 451.3C906.8 451.7 907.7 450.1 908.4 450.5C909 450.9 909.8 454.5 910.4 453.8C911 453.2 911.5 448.2 912 446.4C912.6 444.5 913.2 442.8 913.6 442.2C914.1 441.7 914.6 442.9 914.8 443.1" fill="none" stroke="#fb3030" stroke-width="4.75" stroke-linejoin="round" stroke-linecap="round"/>
<path d="M87 375.3C87.4 374.4 88.5 370.1 89.3 369.6C90 369 91.1 371.8 91.8 372C92.6 372.3 93.3 370.9 94.1 371.2C94.8 371.5 95.9 372.8 96.6 373.7C97.4 374.6 97.9 375.4 98.6 377C99.3 378.6 100.2 383.9 101 383.6C101.7 383.3 102.5 377.7 103.4 375.3C104.2 373 105.5 369.4 106.3 368.7C107 368.1 107.5 370.4 108.2 371.2C108.9 372 109.8 374.6 110.6 373.7C111.4 372.8 112.2 365.7 113 365.4C113.8 365.2 114.7 370.4 115.4 372C116.2 373.6 117.1 375.6 117.8 375.3C118.6 375.1 119.5 373.3 120.2 370.4C121 367.5 121.9 360.6 122.6 357.2C123.4 353.7 124.4 353.4 125.1 348.9C125.7 344.4 126.1 337.5 126.7 329.1C127.2 320.6 127.7 305.3 128.3 296C128.8 286.7 129.5 276.9 129.9 271.2C130.2 265.5 130.3 260.5 130.7 260.5C131 260.5 131.5 265.5 132 271.2C132.4 276.9 133 287.3 133.6 296C134.1 304.7 134.6 316.8 135.2 325.8C135.7 334.7 136.3 346.4 136.8 352.2C137.3 358 137.8 360.1 138.4 362.1C139 364.1 139.8 363.8 140.6 364.6C141.4 365.4 142.4 366.9 143.2 367.1C144 367.2 144.6 365 145.4 365.4C146.3 365.8 147.5 369.6 148.3 369.6C149.2 369.6 150 366.6 150.7 365.4C151.5 364.2 152.4 362.1 153.1 362.1C153.9 362.1 154.8 365.4 155.5 365.4C156.3 365.4 157.2 363.2 157.9 362.1C158.7 361.1 159.6 358.5 160.4 358.8C161.1 359.1 162 363.2 162.8 363.8C163.5 364.3 164.4 360.3 165.2 362.1C165.9 364 166.6 374.3 167.3 375.3C167.9 376.4 168.9 370.8 169.5 368.7C170.1 366.6 170.3 361.9 170.8 362.1C171.3 362.4 172.1 369.6 172.7 370.4C173.4 371.2 174.1 368.8 174.8 367.1C175.5 365.4 176.4 361.1 177.2 359.6C178 358.2 178.9 358.4 179.6 358C180.3 357.6 181 356.5 181.7 357.2C182.4 357.8 183.3 360.7 183.9 362.1C184.6 363.6 185.3 366 186 366.2C186.7 366.5 187.7 364.3 188.4 363.8C189.1 363.2 189.7 362.4 190.4 362.9C191 363.5 191.7 366.1 192.4 367.1C193.2 368 194.1 367.9 194.9 368.7C195.6 369.5 196.5 371.4 197.3 372C198 372.7 198.9 372.9 199.7 372.9C200.4 372.9 201.3 372 202.1 372C202.8 372 203.7 373.3 204.5 372.9C205.3 372.5 206.1 370.2 206.9 369.6C207.7 368.9 208.5 368.3 209.3 368.7C210.1 369.1 211.1 371.8 211.7 372C212.3 372.3 212.7 372.4 213.3 370.4C213.9 368.4 214.8 360.2 215.4 359.6C216 359.1 216.6 365.5 217.3 367.1C218 368.7 219 368.9 219.7 369.6C220.5 370.2 221.4 370.5 222.1 371.2C222.9 371.9 223.8 374 224.5 373.7C225.3 373.4 226.2 369.8 227 369.6C227.7 369.3 228.6 371.8 229.4 372C230.1 372.3 231 371.7 231.8 371.2C232.5 370.7 233.5 371.2 234.2 368.7C234.8 366.2 235.1 358.3 235.8 355.5C236.4 352.7 237.4 351.7 238.1 351C238.9 350.3 239.5 350.5 240.2 351C241 351.5 241.9 352.8 242.6 354.3C243.4 355.8 244.3 358.4 245 360.1C245.8 361.8 246.7 365.4 247.5 365C248.2 364.6 249.1 359.6 249.9 357.6C250.6 355.6 251.3 354.2 251.9 352.6C252.6 351.1 253.4 348.9 254.2 347.7C255 346.5 256 347.1 256.8 345.2C257.5 343.4 258.1 340.2 258.7 336.1C259.3 332 259.8 325.4 260.3 319.6C260.8 313.8 261.4 305.8 261.9 299.8C262.4 293.7 263 286.1 263.5 281.6C264 277.1 264.7 273.5 265.1 271.7C265.5 269.8 265.8 269.2 266.2 270C266.6 270.8 267.1 272.6 267.5 276.6C267.9 280.6 268.3 287.9 268.6 294.8C269 301.7 269.5 311.9 269.9 319.6C270.4 327.3 271 337.4 271.5 342.7C272.1 348 272.9 348.9 273.4 352.6C274 356.3 274.5 363.1 275.1 365.9C275.6 368.6 276.1 369.7 276.7 370C277.2 370.3 278 368 278.7 367.5C279.5 367 280.4 366.4 281.2 366.7C281.9 367 282.8 368.5 283.6 369.2C284.3 369.8 285.2 370.7 286 370.8C286.7 371 287.6 370.3 288.4 370C289.1 369.7 290 369.7 290.8 369.2C291.6 368.6 292.4 366.4 293.2 366.7C294 367 294.9 370 295.6 370.8C296.3 371.6 296.9 371.9 297.5 371.7C298.2 371.4 298.9 369.7 299.6 369.2C300.3 368.6 301.2 369.3 302 368.3C302.8 367.4 303.7 364.4 304.4 363.4C305.2 362.3 306.1 362.4 306.8 361.7C307.6 361.1 308.5 360.2 309.2 359.3C310 358.3 310.7 355.7 311.3 356C312 356.2 312.6 359.5 313.2 360.9C313.9 362.4 314.5 364.2 315.2 365C315.8 365.8 316.5 365.6 317.3 365.9C318 366.1 319 366.2 319.7 366.7C320.4 367.2 321 368.8 321.6 369.2C322.2 369.6 323 369 323.7 369.2C324.3 369.3 325.1 371.6 325.8 370C326.4 368.4 327.1 364.7 327.7 359.3C328.3 353.8 328.8 344.3 329.3 336.1C329.8 327.9 330.4 316 330.9 308C331.4 300.1 332 290.8 332.5 286.5C333 282.3 333.4 281.3 333.8 281.6C334.2 281.8 334.6 283.4 335.1 288.2C335.5 292.9 336 303.7 336.5 311.3C337 319 337.6 330 338.1 336.1C338.6 342.2 339.1 345.6 339.7 349.3C340.3 353 341.2 356.5 341.8 359.3C342.5 362 343.1 367 343.7 366.7C344.4 366.4 345 357.5 345.7 357.6C346.3 357.7 347.1 366.2 347.7 367.5C348.4 368.8 349.1 365.9 349.8 365.9C350.5 365.9 351.3 367 352.1 367.5C352.9 368 353.9 369.2 354.6 369.2C355.4 369.2 355.9 366.7 356.6 367.5C357.3 368.3 358.2 374.1 359 374.1C359.8 374.1 360.6 368.7 361.4 367.5C362.2 366.3 363 366.3 363.8 366.7C364.6 367.1 365.4 370.4 366.2 370C367 369.6 367.8 365.9 368.6 364.2C369.4 362.5 370.2 360.4 371 359.3C371.8 358.1 372.7 356.6 373.4 356.8C374.2 356.9 375.2 358.8 375.8 360.1C376.5 361.4 376.9 364.4 377.4 365C378 365.7 378.4 362.9 379 364.2C379.7 365.5 380.7 372.2 381.4 373.3C382.2 374.4 383.1 371.4 383.9 370.8C384.6 370.3 385.8 370.2 386.3 370C386.7 369.8 386.1 369.2 386.7 369.6C387.3 369.9 388.9 371.8 389.9 372C390.9 372.3 392.2 372.1 393.1 371.2C394 370.3 394.9 367.3 395.5 366.2C396.2 365.2 396.5 364.1 397.1 364.6C397.8 365.1 398.8 368.1 399.5 369.6C400.2 371 400.7 373.8 401.5 373.7C402.2 373.6 403.2 369.3 404 368.7C404.9 368.2 405.9 370.1 406.8 370.4C407.6 370.6 408.3 371.3 409.2 370.4C410 369.5 411.2 365 412.1 364.6C412.9 364.2 413.6 367.8 414.3 367.9C415 368 415.6 365.3 416.4 365.4C417.2 365.6 418.4 368.9 419.1 368.7C419.9 368.6 420.5 364.9 421.2 364.6C421.9 364.3 422.8 366 423.6 367.1C424.4 368.1 425.3 370.1 426 371.2C426.8 372.3 427.7 374.3 428.4 373.7C429.2 373 430.1 368.9 430.8 367.1C431.6 365.2 432.2 361.9 432.9 362.1C433.6 362.4 434.3 369 435.2 368.7C436 368.5 437.2 361 438.1 360.5C438.9 359.9 439.7 366.2 440.5 365.4C441.2 364.6 441.9 358.4 442.5 355.5C443.2 352.6 443.8 348.7 444.5 347.2C445.2 345.8 446.2 345.4 446.9 346.4C447.6 347.5 448.3 351.1 449 353.9C449.6 356.6 450.2 362 450.9 363.8C451.6 365.5 452.5 365.1 453.3 364.6C454.1 364.1 455.3 360.3 456 360.5C456.8 360.6 457.4 362.9 458.1 365.4C458.8 367.9 459.8 377 460.5 376.2C461.2 375.4 461.8 363.5 462.4 360.5C463.1 357.4 463.9 357.2 464.5 357.2C465.1 357.2 465.5 361.3 466.1 360.5C466.7 359.7 467.5 353.7 468.2 352.2C469 350.7 470.1 351.9 471 351.4C471.8 350.8 472.6 348.2 473.4 348.9C474.1 349.6 475 353.9 475.8 355.5C476.5 357.1 477.4 357.9 478.2 358.8C478.9 359.7 479.8 360.8 480.6 361.3C481.4 361.8 482.3 360.7 483 362.1C483.7 363.6 484.3 367.9 484.9 370.4C485.6 372.9 486.3 378.6 487 377.8C487.7 377 488.4 368.1 489.1 365.4C489.7 362.8 490.4 360.8 491 361.3C491.6 361.8 492.3 365.7 492.9 368.7C493.6 371.8 494.4 380.6 495 380.3C495.7 380 496.4 369.3 497.1 367.1C497.8 364.8 498.7 366.6 499.4 366.2C500.1 365.9 500.7 365 501.4 364.6C502.2 364.2 503.1 363.5 503.9 363.8C504.6 364 505.5 366.6 506.3 366.2C507 365.9 508 362.3 508.7 361.3C509.4 360.2 509.9 359.4 510.6 359.6C511.2 359.9 512 362.4 512.7 362.9C513.4 363.5 514.3 362.5 515.1 362.9C515.9 363.3 516.6 364.6 517.5 365.4C518.4 366.2 519.7 367.5 520.7 367.9C521.7 368.3 522.9 367 523.9 367.9C524.9 368.8 526.2 374.1 527.1 373.7C528 373.3 528.9 367 529.5 365.4C530.2 363.8 530.5 362.2 531.1 363.8C531.8 365.4 532.8 374.5 533.5 375.3C534.3 376.1 535.5 369.8 535.9 368.7C536.4 367.7 535.9 369.4 536.4 368.7C536.8 368.1 538 365.7 538.8 364.6C539.6 363.5 540.4 361.2 541.2 362.1C542 363 542.8 370.2 543.6 370.4C544.4 370.5 545.2 364.3 546 362.9C546.8 361.6 547.7 361.5 548.4 362.1C549.2 362.8 549.9 366 550.8 367.1C551.7 368.1 553 368.6 554 368.7C555.1 368.9 556.4 369.1 557.2 367.9C558.1 366.7 558.9 362.6 559.7 361.3C560.4 360 561.3 359.5 562.1 359.6C562.8 359.8 563.7 360.7 564.5 362.1C565.2 363.6 566.2 367 566.9 368.7C567.5 370.4 567.8 372.9 568.5 372.9C569.1 372.9 570.1 369.5 570.9 368.7C571.7 367.9 572.5 369.1 573.3 367.9C574.1 366.7 574.9 362.6 575.7 361.3C576.5 360 577.3 359.5 578.1 359.6C578.9 359.8 579.8 360.3 580.5 362.1C581.2 364 581.8 370.1 582.4 371.2C583.1 372.3 583.8 369.9 584.5 368.7C585.2 367.5 586.2 365 586.9 363.8C587.7 362.6 588.6 361.3 589.3 361.3C590.1 361.3 590.9 362.6 591.8 363.8C592.6 365 593.7 368.5 594.6 368.7C595.5 369 596.5 366.2 597.4 365.4C598.2 364.6 599 363.9 599.8 363.8C600.5 363.6 601.4 365.9 602.2 364.6C603 363.3 603.8 357.4 604.6 355.5C605.4 353.7 606.2 352.5 607 353C607.8 353.6 608.6 357.4 609.4 358.8C610.2 360.3 611.1 360.9 611.8 362.1C612.5 363.3 613.3 366.4 613.9 366.2C614.5 366.1 615.1 362 615.8 361.3C616.5 360.6 617.5 361.6 618.2 362.1C619 362.6 619.9 364.1 620.6 364.6C621.4 365.1 622.3 366 623 365.4C623.8 364.9 624.8 360.4 625.5 361.3C626.1 362.2 626.7 369.5 627.4 371.2C628 372.9 628.8 373.2 629.5 372C630.1 370.8 630.9 365 631.5 363.8C632.2 362.6 632.9 365.9 633.5 364.6C634.1 363.3 634.8 358.3 635.4 355.5C636 352.7 636.8 349.1 637.5 347.2C638.2 345.4 639.1 345 639.9 343.9C640.7 342.9 641.5 340.6 642.3 340.6C643.1 340.6 644.1 341.6 644.7 343.9C645.4 346.3 645.7 352.9 646.3 355.5C646.9 358.1 647.6 359.9 648.2 360.5C648.9 361 649.7 358 650.3 358.8C651 359.6 651.8 363.2 652.4 365.4C653.1 367.7 653.6 372.7 654.3 372.9C655 373 656 367.2 656.7 366.2C657.5 365.3 658.4 368.1 659.2 367.1C659.9 366 660.8 361.1 661.6 359.6C662.3 358.2 663.3 357.6 664 358C664.7 358.4 665.2 360.7 665.9 362.1C666.6 363.6 667.6 366.5 668.5 367.1C669.3 367.6 670.4 366.3 671.2 365.4C672 364.5 672.9 362 673.6 361.3C674.3 360.6 674.9 360.1 675.5 361.3C676.2 362.5 676.9 368.3 677.6 368.7C678.3 369.1 679.2 364.8 680 363.8C680.8 362.7 681.6 362.4 682.4 362.1C683.2 361.9 684.1 361.3 684.8 362.1C685.6 362.9 686.9 366.4 687.2 367.1C687.6 367.7 686.5 365.9 686.9 366.2C687.2 366.4 688.5 367.9 689.3 368.6C690.1 369.4 690.9 371.4 691.7 371.1C692.5 370.9 693.3 367.1 694.1 367C694.9 366.9 695.8 370.8 696.5 370.3C697.2 369.8 697.9 365.3 698.6 363.7C699.2 362.1 699.9 361 700.5 360.4C701.1 359.7 701.8 358.5 702.4 359.6C703.1 360.6 703.8 365.3 704.5 367C705.2 368.7 706.2 369.4 706.9 370.3C707.6 371.2 708.2 372.9 708.9 372.8C709.5 372.6 710.2 370.3 710.9 369.5C711.7 368.7 712.7 368.7 713.4 367.8C714 366.9 714.6 364.1 715.3 363.7C715.9 363.3 716.6 365.3 717.4 365.3C718.1 365.3 719 364.2 719.8 363.7C720.5 363.2 721.4 362.4 722.2 362C722.9 361.6 723.9 361.5 724.6 361.2C725.3 360.9 725.8 359.7 726.5 360.4C727.2 361 728.3 364.3 729.1 365.3C729.8 366.4 730.6 367.5 731.3 367C732 366.5 732.7 363.1 733.4 362C734.1 361 734.9 359.1 735.5 360.4C736.1 361.7 736.5 370.6 737.1 370.3C737.7 370 738.5 361 739 358.7C739.6 356.5 740.1 355.5 740.6 356.2C741.2 357 741.9 362.8 742.6 363.7C743.2 364.6 743.9 361.8 744.6 362C745.4 362.3 746.3 363.9 747.1 365.3C747.8 366.8 748.7 371.1 749.5 371.1C750.2 371.1 751.2 367.2 751.9 365.3C752.6 363.5 753.1 360.3 753.8 359.6C754.4 358.8 755.2 359.7 755.9 360.4C756.5 361 757.3 361.7 758 363.7C758.6 365.7 759.2 371.7 759.9 372.8C760.6 373.8 761.6 371.2 762.3 370.3C763 369.4 763.7 368 764.4 367C765.1 365.9 765.9 364.1 766.6 363.7C767.4 363.3 768.4 364 769.2 364.5C770 365 770.8 366.9 771.4 367C772.1 367.1 772.8 365.9 773.5 365.3C774.2 364.8 775.2 364.1 775.9 363.7C776.6 363.3 777.2 362.5 777.9 362.9C778.5 363.3 779.4 365 779.9 366.2C780.5 367.4 781 370.8 781.6 370.3C782.1 369.8 783 364.7 783.6 362.9C784.3 361 784.9 358.6 785.6 358.7C786.3 358.9 787.2 363 788 363.7C788.7 364.3 789.6 362.9 790.4 362.9C791.1 362.9 792 363.7 792.8 363.7C793.6 363.7 794.4 362.9 795.2 362.9C796 362.9 796.9 363.3 797.6 363.7C798.3 364.1 799 366 799.7 365.3C800.4 364.7 801.2 360.6 801.9 359.6C802.6 358.5 803.4 358.1 804 358.7C804.7 359.4 805.4 363 806.1 363.7C806.8 364.3 807.7 362.3 808.4 362.9C809 363.4 809.8 365.5 810.4 367C811 368.4 811.5 372.5 812 372C812.6 371.4 813.5 365.7 814.1 363.7C814.8 361.7 815.4 359.6 816.1 359.6C816.7 359.6 817.3 363.3 818 363.7C818.6 364.1 819.4 362.6 820.1 362C820.7 361.5 821.5 361.4 822.2 360.4C822.8 359.3 823.6 358.6 824.1 355.4C824.6 352.2 825 346.4 825.4 340.5C825.7 334.7 826.1 324.6 826.5 319.1C826.9 313.5 827.3 308.2 827.8 305.8C828.2 303.5 828.7 303.7 829.2 304.2C829.7 304.7 830.4 306.5 830.8 309.1C831.3 311.8 831.6 315.7 832.1 320.7C832.6 325.7 833.2 335 833.7 340.5C834.2 346.1 834.8 351.7 835.3 355.4C835.8 359.1 836.1 362 836.9 363.7C837.7 365.4 839.5 366.7 840.3 366.2C841.2 365.6 841.6 360.5 842.2 360.4C842.9 360.2 843.5 363.8 844.2 365.3C844.8 366.9 845.6 370.2 846.2 370.3C846.9 370.4 847.7 366.4 848.3 366.2C849 365.9 849.6 367.7 850.3 368.6C851 369.6 851.9 372 852.7 372C853.4 372 854.3 370.1 855.1 368.6C855.8 367.2 856.7 363.1 857.5 362.9C858.3 362.6 859.1 366.2 859.9 367C860.7 367.8 861.5 367.4 862.3 367.8C863.1 368.2 863.9 369.3 864.7 369.5C865.5 369.6 866.3 368.1 867.1 368.6C867.9 369.2 868.7 372.1 869.5 372.8C870.3 373.4 871.2 373.2 871.9 372.8C872.6 372.4 873.4 372.4 874 370.3C874.6 368.2 875.1 361.1 875.6 359.6C876.2 358 876.9 358.7 877.5 360.4C878.2 362.1 878.8 370.3 879.5 370.3C880.1 370.3 880.8 362.4 881.6 360.4C882.3 358.4 883.2 357.4 884 357.9C884.7 358.4 885.6 362.2 886.4 363.7C887.1 365.1 888.1 365.8 888.8 367C889.5 368.2 890.1 369.5 890.7 371.1C891.3 372.7 892.1 377.3 892.8 376.9C893.5 376.5 894.2 370.4 894.9 368.6C895.5 366.9 896.1 367 896.8 366.2C897.5 365.4 898.4 363.6 899.2 363.7C900 363.8 900.8 365.8 901.6 367C902.4 368.2 903.2 371 904 371.1C904.8 371.3 905.7 369.3 906.4 367.8C907.1 366.4 907.7 364.5 908.4 362C909 359.5 909.8 354.2 910.4 352.1C911 350 911.5 348.8 912 348.8C912.6 348.8 913.2 350.8 913.6 352.1C914.1 353.4 914.6 356.3 914.8 357.1" fill="none" stroke="#3232fa" stroke-width="4.75" stroke-linejoin="round" stroke-linecap="round"/>
<path d="M87 273.5C87.6 272.5 89.5 267.6 90.5 266.9C91.6 266.2 92.9 268.9 93.8 268.9C94.7 268.8 95.4 266.6 96.2 266.6C96.9 266.5 97.8 268.6 98.6 268.6C99.3 268.5 100.2 266 101 266.1C101.7 266.2 102.5 268.6 103.4 269.4C104.3 270.2 105.7 271.5 106.6 271C107.5 270.6 108.2 266.2 109 266.6C109.8 267 110.6 272.1 111.4 273.5C112.2 274.9 113 276.4 113.8 275.2C114.6 274 115.5 267.8 116.2 266.1C117 264.4 118 264 118.6 264.4C119.2 264.8 119.6 268.8 120.1 268.6C120.6 268.3 121.3 264.7 121.8 262.9C122.4 261.2 122.9 259 123.3 257.5C123.7 256 123.9 256.2 124.2 253.7C124.6 251.2 125.3 246.1 125.7 242C126.1 237.8 126.4 232.2 126.8 227.6C127.2 222.9 127.8 217.6 128.1 213C128.4 208.4 128.4 202.3 128.6 199C128.7 195.7 128.9 194 129.1 192.5C129.3 191.1 129.6 190 129.9 190C130.1 190 130.3 191.1 130.5 192.5C130.7 194 130.8 195.7 131 199C131.2 202.3 131.5 208.4 131.8 213C132.1 217.6 132.4 222.9 132.8 227.6C133.1 232.2 133.7 237.8 134.2 242C134.7 246.1 135.2 250.3 135.6 253.7C136.1 257 136.5 260.2 136.9 262.9C137.3 265.7 137.8 269.3 138.2 271C138.6 272.7 138.7 273.7 139.2 273.5C139.6 273.4 140.5 271.8 141.1 270.2C141.7 268.6 142.5 264.3 143.2 263.6C143.9 262.9 144.7 264.8 145.4 266.1C146.1 267.4 146.8 271.5 147.5 271.9C148.2 272.3 149.2 269.4 149.9 268.6C150.7 267.8 151.6 267 152.3 266.9C153.1 266.8 154 267.9 154.7 267.7C155.4 267.6 156 265.6 156.7 266.1C157.3 266.6 158 270 158.7 271C159.5 272.1 160.4 273.1 161.2 272.7C161.9 272.3 162.8 269.9 163.6 268.6C164.3 267.2 165.2 265 166 264.4C166.7 263.9 167.7 265.8 168.4 265.3C169.1 264.7 169.8 262.3 170.5 261.1C171.2 259.9 172 258 172.7 257.8C173.4 257.7 174.1 259 174.8 260.3C175.5 261.6 176.4 264.4 177.2 266.1C178 267.8 178.8 270.8 179.6 271C180.4 271.3 181.2 267.9 182 267.7C182.8 267.6 183.7 270 184.4 270.2C185.2 270.5 186.1 269 186.8 269.4C187.6 269.8 188.5 272.6 189.2 272.7C190 272.8 191 271.3 191.6 270.2C192.3 269.2 192.9 266 193.6 266.1C194.2 266.2 194.9 269.9 195.7 271C196.4 272.2 197.3 272.5 198.1 273.5C198.8 274.6 199.8 278.2 200.5 277.7C201.2 277.1 201.9 272.3 202.6 270.2C203.2 268.1 203.8 264.7 204.5 264.4C205.2 264.2 206.1 267.5 206.9 268.6C207.7 269.6 208.5 271 209.3 271C210.1 271 210.9 269.4 211.7 268.6C212.5 267.8 213.3 266.3 214.1 266.1C214.9 265.8 215.8 266.4 216.5 266.9C217.3 267.4 218.2 268.9 218.9 269.4C219.7 269.9 220.6 270.5 221.3 270.2C222.1 270 223 268.3 223.7 267.7C224.5 267.2 225.4 267.2 226.1 266.9C226.9 266.6 227.8 266.3 228.6 266.1C229.3 265.8 230.2 265.7 231 265.3C231.7 264.9 232.6 264.1 233.4 263.6C234.1 263.1 235.3 262.1 235.8 262C236.2 261.8 235.8 262.8 236.2 262.8C236.7 262.8 238 263.4 238.6 262C239.3 260.5 239.6 254.5 240.2 253.7C240.8 252.9 241.7 255.4 242.3 257C243 258.6 243.5 263.1 244.2 263.6C244.9 264.1 245.9 261.2 246.7 260.3C247.4 259.4 248.2 258.9 249.1 257.8C249.9 256.8 251.2 256.7 251.9 253.7C252.7 250.6 253.3 244.6 253.9 238.8C254.4 233 255 223.4 255.5 217.3C256 211.2 256.5 204.4 257.1 200.8C257.6 197.1 258.4 195.4 259 194.5C259.6 193.6 260.5 193.2 261.1 195C261.7 196.8 262.2 200.9 262.7 205.8C263.2 210.6 263.8 219 264.3 225.6C264.8 232.2 265.4 240.7 265.9 247.1C266.4 253.4 267 261.7 267.5 265.3C268 268.8 268.5 269.4 269.1 269.4C269.7 269.4 270.4 266 271.2 265.3C272 264.5 273.1 264.3 273.9 264.4C274.8 264.6 275.6 264.5 276.3 266.1C277.1 267.7 278 274.3 278.7 274.3C279.5 274.3 280.4 267.7 281.2 266.1C281.9 264.5 282.8 264 283.6 264.4C284.3 264.8 285.2 267.6 286 268.6C286.7 269.5 287.6 269.8 288.4 270.2C289.1 270.6 289.9 269.7 290.8 271C291.6 272.4 292.8 278.1 293.7 278.5C294.6 278.9 295.6 275.1 296.4 273.5C297.2 271.9 298 269.8 298.8 268.6C299.6 267.4 300.4 267.5 301.2 266.1C302 264.6 302.8 259.5 303.6 259.5C304.4 259.5 305.3 264.8 306 266.1C306.8 267.4 307.7 267.7 308.4 267.7C309.2 267.7 310.1 266.1 310.8 266.1C311.6 266.1 312.5 267.9 313.2 267.7C314 267.6 314.9 265.4 315.7 265.3C316.4 265.1 317.3 267.2 318.1 266.9C318.8 266.6 319.7 263.3 320.5 263.6C321.2 263.9 322.3 267.7 322.9 268.6C323.4 269.4 323.4 269.7 324 269.1C324.6 268.4 326 267.3 326.6 264.8C327.1 262.2 327.2 257.2 327.5 253C327.8 248.8 328.1 243.1 328.5 238.5C328.9 233.8 329.4 228.6 329.9 223.9C330.5 219.3 331.5 212.6 331.9 209.6C332.3 206.5 332.3 205.9 332.5 204.9C332.7 204 332.8 203.8 333 203.8C333.1 203.8 333.3 204 333.5 204.9C333.6 205.9 333.6 206.5 333.9 209.6C334.3 212.6 334.9 219.3 335.4 223.9C335.9 228.6 336.7 233.8 337.2 238.5C337.6 243.1 337.7 249.1 338.1 253C338.5 257 339 261.1 339.6 263.3C340.1 265.5 341 266.7 341.7 266.7C342.3 266.7 343 264.4 343.7 263.3C344.5 262.1 345.4 258.6 346.1 259.5C346.9 260.3 347.6 268 348.2 268.6C348.9 269.1 349.5 262.8 350.2 262.8C350.8 262.8 351.8 268.4 352.6 268.6C353.3 268.7 354 262.9 354.6 263.6C355.3 264.3 356.2 271.9 356.9 272.7C357.6 273.5 358.3 267.6 359 268.6C359.7 269.5 360.6 277.4 361.4 278.5C362.2 279.5 363 276.4 363.8 275.2C364.6 274 365.4 271.8 366.2 271C367 270.2 367.8 269.8 368.6 270.2C369.4 270.6 370.2 272.5 371 273.5C371.8 274.6 372.7 276.6 373.4 276.8C374.2 277.1 375.1 276.1 375.8 275.2C376.6 274.2 377.5 272 378.2 271C379 270.1 379.9 269.3 380.6 269.4C381.4 269.5 382.3 271.6 383.1 271.9C383.8 272.1 385 271.4 385.5 271C385.9 270.6 385.4 269 385.9 269.4C386.4 269.8 387.5 272.6 388.3 273.5C389.1 274.4 389.9 276 390.7 275.2C391.5 274.4 392.4 269.2 393.1 268.6C393.9 267.9 394.8 270.2 395.5 271C396.3 271.8 397.2 273.5 397.9 273.5C398.7 273.5 399.4 272 400.3 271C401.2 270.1 402.7 266.8 403.6 267.7C404.5 268.7 405.2 275.9 406 276.8C406.7 277.8 407.6 273.9 408.4 273.5C409.1 273.1 410 274.5 410.8 274.3C411.5 274.2 412.4 273.4 413.2 272.7C414 272 414.8 270.9 415.6 270.2C416.4 269.6 417.2 268 418 268.6C418.8 269.1 419.6 273.1 420.4 273.5C421.2 273.9 422 271.3 422.8 271C423.6 270.8 424.4 271.9 425.2 271.9C426 271.9 426.9 270.6 427.6 271C428.4 271.4 429.3 274.5 430 274.3C430.8 274.2 431.7 270.6 432.4 270.2C433.2 269.8 434.1 272.1 434.8 271.9C435.6 271.6 436.5 268.7 437.3 268.6C438 268.4 439 271.8 439.7 271C440.4 270.2 440.9 265.7 441.6 263.6C442.2 261.5 443 258.7 443.7 257.8C444.4 256.9 445.4 256.6 446.1 257.8C446.8 259 447.4 263.5 448 265.3C448.6 267 449.4 267.6 450.1 268.6C450.8 269.5 451.7 271 452.5 271C453.3 271 454.1 269.2 454.9 268.6C455.7 267.9 456.5 268.2 457.3 266.9C458.1 265.6 459 261.6 459.7 260.3C460.5 259 461.4 257.9 462.1 258.6C462.9 259.4 463.8 263 464.5 265.3C465.3 267.5 466.2 271.8 466.9 272.7C467.7 273.6 468.6 272.1 469.3 271C470.1 270 470.8 267.1 471.4 266.1C472.1 265 472.7 264 473.4 264.4C474.1 264.8 475 267.8 475.8 268.6C476.5 269.4 477.4 269 478.2 269.4C478.9 269.8 479.8 270.9 480.6 271C481.4 271.2 482.1 270.2 483 270.2C483.9 270.2 485.2 271.3 486.2 271C487.2 270.8 488.4 268.4 489.4 268.6C490.4 268.7 491.6 271.5 492.6 271.9C493.6 272.3 494.8 270.8 495.8 271C496.9 271.3 497.9 272.7 499 273.5C500.2 274.3 501.8 276.5 503 276C504.3 275.5 505.9 270.7 507.1 270.2C508.2 269.7 509.2 272.2 510.3 272.7C511.3 273.2 512.5 272.6 513.5 273.5C514.5 274.4 515.7 278.2 516.7 278.5C517.7 278.7 518.9 275.8 519.9 275.2C520.9 274.5 522.1 274.6 523.1 274.3C524.1 274.1 525.3 273.5 526.3 273.5C527.3 273.5 528.4 275 529.5 274.3C530.7 273.7 532.4 269.8 533.5 269.4C534.7 269 536.2 271.5 536.7 271.9C537.3 272.3 536.7 272.1 537.2 271.9C537.7 271.6 539.2 269.7 540.1 270.2C541 270.7 542 273.7 542.8 275.2C543.6 276.6 544.4 279.6 545.2 279.3C546 279 546.9 274.7 547.6 273.5C548.4 272.3 549.2 272.8 550 271.9C550.9 270.9 552 267.7 552.9 267.7C553.8 267.7 554.8 270.7 555.6 271.9C556.5 273.1 557.3 275.2 558.1 275.2C558.8 275.2 559.7 272.5 560.5 271.9C561.2 271.2 562.1 270.8 562.9 271C563.6 271.3 564.5 273.7 565.3 273.5C566 273.4 566.8 271 567.7 270.2C568.6 269.4 569.9 268.6 570.9 268.6C571.9 268.6 573.1 269.4 574.1 270.2C575.1 271 576.3 272.7 577.3 273.5C578.3 274.3 579.5 275.2 580.5 275.2C581.5 275.2 582.7 274 583.7 273.5C584.8 273 586 272 586.9 271.9C587.8 271.7 588.6 273.2 589.3 272.7C590.1 272.2 591 268.2 591.8 268.6C592.5 269 593.4 273.5 594.2 275.2C594.9 276.9 595.5 279.6 596.2 279.3C597 279 598.2 274.7 599 273.5C599.8 272.3 600.6 272.4 601.4 271.9C602.2 271.3 603 270.2 603.8 270.2C604.6 270.2 605.4 272.1 606.2 271.9C607 271.6 607.8 268.3 608.6 268.6C609.4 268.8 610.2 273.7 611 273.5C611.8 273.4 612.6 268.4 613.4 267.7C614.2 267.1 615.1 269.7 615.8 269.4C616.6 269.1 617.5 266.2 618.2 266.1C619 266 619.9 267.8 620.6 268.6C621.4 269.4 622.3 270 623 271C623.8 272.1 624.7 275.6 625.5 275.2C626.2 274.8 627.1 270.1 627.9 268.6C628.6 267 629.5 265.4 630.3 265.3C631 265.1 632 268.3 632.7 267.7C633.4 267.2 634 263.1 634.8 262C635.5 260.8 636.7 260 637.5 260.3C638.3 260.6 639.1 262 639.9 263.6C640.7 265.2 641.5 268.6 642.3 270.2C643.1 271.8 643.8 272.7 644.7 273.5C645.6 274.3 646.9 274.5 647.9 275.2C648.9 275.8 650.1 277.9 651.1 277.7C652.2 277.4 653.3 274.4 654.3 273.5C655.4 272.6 656.5 271.9 657.5 271.9C658.6 271.9 659.7 273.7 660.8 273.5C661.8 273.4 662.9 271.3 664 271C665 270.8 666.1 271.5 667.2 271.9C668.2 272.3 669.4 273.8 670.4 273.5C671.4 273.3 672.6 269.4 673.6 270.2C674.6 271 675.9 278 676.8 278.5C677.7 279 678.4 274.7 679.2 273.5C680 272.3 680.7 271.3 681.6 271C682.5 270.8 683.9 271.7 684.8 271.9C685.8 272 686.7 272 687.7 271.9C688.6 271.7 689.9 270.8 690.9 271C691.9 271.3 693.2 273.3 694.1 273.5C695 273.8 695.7 272 696.5 272.7C697.3 273.4 698.1 277.4 698.9 277.7C699.7 277.9 700.4 275.3 701.3 274.3C702.2 273.4 703.6 272.5 704.5 271.9C705.4 271.2 706 270.3 706.9 270.2C707.8 270.1 709.2 271.2 710.1 271C711 270.9 711.7 269.3 712.5 269.4C713.4 269.5 714.7 271.2 715.8 271.9C716.8 272.5 717.9 273.4 719 273.5C720 273.7 721.2 272.6 722.2 272.7C723.2 272.8 724.4 274.2 725.4 274.3C726.4 274.5 727.6 273 728.6 273.5C729.5 274 730.4 277.7 731.3 277.7C732.2 277.7 733.4 274.3 734.2 273.5C735.1 272.7 735.7 272.2 736.6 272.7C737.5 273.2 738.8 276.7 739.8 276.8C740.9 277 742 274.4 743 273.5C744.1 272.6 745.2 271.7 746.2 271C747.3 270.4 748.6 270.3 749.5 269.4C750.4 268.5 751.1 265 751.9 265.3C752.6 265.5 753.5 270 754.3 271C755 272.1 755.8 271.9 756.7 271.9C757.6 271.9 758.9 271 759.9 271C760.9 271 762.1 271.5 763.1 271.9C764.1 272.3 765.3 273.1 766.3 273.5C767.3 273.9 768.5 274.1 769.5 274.3C770.5 274.6 771.6 274.8 772.4 275.2C773.2 275.6 773.9 277.5 774.7 276.8C775.4 276.2 776.4 271.3 777.2 271C778.1 270.8 779.1 274.2 779.9 275.2C780.8 276.1 781.5 276.3 782.4 276.8C783.2 277.4 784.3 279.1 785.2 278.5C786.1 277.8 787.3 274.1 788 272.7C788.7 271.2 788.9 269 789.6 269.4C790.2 269.8 791.2 274.9 792 275.2C792.8 275.4 793.6 271.8 794.4 271C795.2 270.2 796 269.6 796.8 270.2C797.6 270.9 798.6 273.9 799.2 275.2C799.8 276.5 800.2 278.7 800.8 278.5C801.5 278.2 802.4 274 803.2 273.5C804 273 804.9 275.7 805.6 275.2C806.4 274.6 807.3 270.7 808 270.2C808.8 269.7 809.7 270.5 810.4 271.9C811.2 273.2 812.1 278 812.8 278.5C813.6 279 814.5 275.8 815.3 275.2C816 274.5 817.1 274.5 817.7 274.3C818.3 274.2 818.4 274.8 818.9 274.5C819.5 274.2 820.5 274.2 821 272.5C821.6 270.8 822 266.8 822.5 263.8C823 260.7 823.7 256.8 824.2 253.5C824.8 250.3 825.3 246.7 825.7 243.4C826.1 240.2 826.4 235.6 826.6 233.2C826.9 230.8 827.2 229.5 827.4 228.6C827.7 227.6 827.9 227.2 828.1 227.2C828.3 227.2 828.5 227.6 828.7 228.6C829 229.5 829.4 230.8 829.7 233.2C830 235.6 830.1 240.2 830.3 243.4C830.6 246.7 830.7 250.3 831.1 253.5C831.6 256.8 832.7 261 833.4 263.8C834.1 266.5 834.5 268.9 835.5 270.9C836.4 272.8 838.4 274.9 839.3 276C840.2 277.1 840.4 278.4 841 277.7C841.5 276.9 842.3 272 843 271C843.8 270.1 844.7 271.2 845.4 271.9C846.2 272.5 847.1 274.5 847.9 275.2C848.6 275.8 849.5 276.3 850.3 276C851 275.7 851.9 273.8 852.7 273.5C853.4 273.3 854.3 274.6 855.1 274.3C855.8 274.1 856.7 272.4 857.5 271.9C858.3 271.3 859.1 270.5 859.9 271C860.7 271.6 861.5 274.8 862.3 275.2C863.1 275.6 863.9 274 864.7 273.5C865.5 273 866.4 272.9 867.1 271.9C867.8 270.8 868.5 268.2 869.2 266.9C869.9 265.6 870.8 263.3 871.4 263.6C872.1 263.9 872.8 267.5 873.5 268.6C874.2 269.6 875.2 268.6 875.9 270.2C876.7 271.8 877.6 278 878.3 278.5C879.1 279 880 274.6 880.8 273.5C881.5 272.5 882.4 271.9 883.2 271.9C883.9 271.9 884.8 273.7 885.6 273.5C886.3 273.4 887.2 271 888 271C888.7 271 889.7 272.6 890.4 273.5C891.1 274.4 891.7 277.1 892.3 276.8C892.9 276.6 893.7 273.1 894.4 271.9C895.1 270.7 896 269.4 896.8 269.4C897.6 269.4 898.4 271.2 899.2 271.9C900 272.5 900.8 272.7 901.6 273.5C902.4 274.3 903.3 277.4 904 276.8C904.7 276.3 905.5 272.5 906.1 270.2C906.7 268 907.3 264.1 908 262.8C908.7 261.5 909.7 262 910.4 262C911.2 262 912.2 262.4 912.8 262.8C913.5 263.2 914.5 264.2 914.8 264.4" fill="none" stroke="#2f9a3a" stroke-width="4.75" stroke-linejoin="round" stroke-linecap="round"/>
</g>
<g stroke="#000" fill="none">
<line x1="86.89999999999999" y1="15.1" x2="945.0" y2="15.1" stroke-width="2.3"/>
<line x1="86.89999999999999" y1="585.8" x2="945.0" y2="585.8" stroke-width="2.4"/>
<line x1="88.3" y1="15.1" x2="88.3" y2="585.8" stroke-width="2.8"/>
<line x1="943.5" y1="15.1" x2="943.5" y2="585.8" stroke-width="3"/>
<line x1="88.5" y1="585.8" x2="88.5" y2="596.5" stroke-width="2.8"/>
<line x1="231" y1="585.8" x2="231" y2="596.5" stroke-width="2.8"/>
<line x1="373.5" y1="585.8" x2="373.5" y2="596.5" stroke-width="2.8"/>
<line x1="516" y1="585.8" x2="516" y2="596.5" stroke-width="2.8"/>
<line x1="658.5" y1="585.8" x2="658.5" y2="596.5" stroke-width="2.8"/>
<line x1="801" y1="585.8" x2="801" y2="596.5" stroke-width="2.8"/>
<line x1="943.5" y1="585.8" x2="943.5" y2="596.5" stroke-width="2.8"/>
</g>
<text class="b" x="88.5" y="622.6" font-size="23" text-anchor="middle" textLength="30.5" lengthAdjust="spacingAndGlyphs">25</text>
<text class="b" x="231" y="622.6" font-size="23" text-anchor="middle" textLength="30.5" lengthAdjust="spacingAndGlyphs">30</text>
<text class="b" x="373.5" y="622.6" font-size="23" text-anchor="middle" textLength="30.5" lengthAdjust="spacingAndGlyphs">35</text>
<text class="b" x="516" y="622.6" font-size="23" text-anchor="middle" textLength="30.5" lengthAdjust="spacingAndGlyphs">40</text>
<text class="b" x="658.5" y="622.6" font-size="23" text-anchor="middle" textLength="30.5" lengthAdjust="spacingAndGlyphs">45</text>
<text class="b" x="801" y="622.6" font-size="23" text-anchor="middle" textLength="30.5" lengthAdjust="spacingAndGlyphs">50</text>
<text class="b" x="943.5" y="622.6" font-size="23" text-anchor="middle" textLength="30.5" lengthAdjust="spacingAndGlyphs">55</text>
<text class="b" x="445.2" y="672.3" font-size="29" textLength="19.3" lengthAdjust="spacingAndGlyphs">2</text>
<text class="s" x="466.0" y="672.3" font-size="29.5" textLength="16.8" lengthAdjust="spacingAndGlyphs" stroke="#000" stroke-width="0.3">θ</text>
<text class="b" x="492.5" y="672.3" font-size="29" textLength="93.5" lengthAdjust="spacingAndGlyphs">(deg.)</text>
<g transform="translate(37.2,395.5) rotate(-90) scale(1,1.3)"><text class="b" x="0" y="0" font-size="26" textLength="190.2" lengthAdjust="spacingAndGlyphs">Intensity (a.u)</text></g>
<g transform="translate(144.3,188.8) rotate(-90) scale(1.016,1.2)"><text class="b" x="0" y="0" dx="0 -1.6 0 0 1.3" font-size="21">(101)</text></g>
<g transform="translate(183.4,254.9) rotate(-90) scale(0.996,1.15)"><text class="r" x="0" y="0" dx="0 -1.6 0 0 1.3" font-size="21" stroke="#000" stroke-width="0.8">(200)</text></g>
<g transform="translate(277.4,192.60000000000002) rotate(-90) scale(1.000,1.2)"><text class="b" x="0" y="0" dx="0 -1.6 0 0 1.3" font-size="21">(121)</text></g>
<g transform="translate(354.2,202.10000000000002) rotate(-90) scale(1.037,1.2)"><text class="b" x="0" y="0" dx="0 -1.6 0 0 1.3" font-size="21">(150)</text></g>
<g transform="translate(464.4,255.9) rotate(-90) scale(0.996,1.15)"><text class="r" x="0" y="0" dx="0 -1.6 0 0 1.3" font-size="21" stroke="#000" stroke-width="0.8">(211)</text></g>
<g transform="translate(488.4,256.6) rotate(-90) scale(1.010,1.15)"><text class="r" x="0" y="0" dx="0 -1.6 0 0 1.3" font-size="21" stroke="#000" stroke-width="0.8">(230)</text></g>
<g transform="translate(668.1,257.5) rotate(-90) scale(1.012,1.15)"><text class="r" x="0" y="0" dx="0 -1.6 0 0 1.3" font-size="21" stroke="#000" stroke-width="0.8">(320)</text></g>
<g transform="translate(861.9,226.4) rotate(-90) scale(1.020,1.15)"><text class="r" x="0" y="0" dx="0 -1.6 0 0 1.3" font-size="21" stroke="#000" stroke-width="0.8">(213)</text></g>
<g transform="translate(907.1999999999999,261.3) rotate(-90) scale(1.000,1.15)"><text class="r" x="0" y="0" dx="0 -1.6 0 0 1.3" font-size="21" stroke="#000" stroke-width="0.8">(503)</text></g>
<text class="b" x="674.9" y="255.9" font-size="30" textLength="125.4" lengthAdjust="spacingAndGlyphs" xml:space="preserve" stroke="#000" stroke-width="0.5">x = 0.70</text>
<text class="b" x="668.5" y="341.8" font-size="30" textLength="125.9" lengthAdjust="spacingAndGlyphs" xml:space="preserve" stroke="#000" stroke-width="0.5">x = 0.50</text>
<text class="b" x="661.5" y="426.4" font-size="30" textLength="124.9" lengthAdjust="spacingAndGlyphs" xml:space="preserve" stroke="#000" stroke-width="0.5">x = 0.30</text>
<text class="b" x="632.8" y="504.9" font-size="30" textLength="124.9" lengthAdjust="spacingAndGlyphs" xml:space="preserve" stroke="#000" stroke-width="0.5">x = 0.00</text>
<path transform="translate(139.2,504.9) scale(18.2,16.2)" d="M0 .5C-.12 .3-.5 .08-.5-.22C-.5-.4-.38-.5-.25-.5C-.12-.5-.03-.42 0-.28C.03-.42 .12-.5 .25-.5C.38-.5 .5-.4 .5-.22C.5 .08 .12 .3 0 .5Z" fill="#000"/>
<path transform="translate(233.4,536.3) scale(18.2,16.2)" d="M0 .5C-.12 .3-.5 .08-.5-.22C-.5-.4-.38-.5-.25-.5C-.12-.5-.03-.42 0-.28C.03-.42 .12-.5 .25-.5C.38-.5 .5-.4 .5-.22C.5 .08 .12 .3 0 .5Z" fill="#000"/>
<path transform="translate(412.0,532.0) scale(18.2,16.2)" d="M0 .5C-.12 .3-.5 .08-.5-.22C-.5-.4-.38-.5-.25-.5C-.12-.5-.03-.42 0-.28C.03-.42 .12-.5 .25-.5C.38-.5 .5-.4 .5-.22C.5 .08 .12 .3 0 .5Z" fill="#000"/>
<path transform="translate(512.9,528.2) scale(18.2,16.2)" d="M0 .5C-.12 .3-.5 .08-.5-.22C-.5-.4-.38-.5-.25-.5C-.12-.5-.03-.42 0-.28C.03-.42 .12-.5 .25-.5C.38-.5 .5-.4 .5-.22C.5 .08 .12 .3 0 .5Z" fill="#000"/>
<path transform="translate(917.7,535.2) scale(18.2,16.2)" d="M0 .5C-.12 .3-.5 .08-.5-.22C-.5-.4-.38-.5-.25-.5C-.12-.5-.03-.42 0-.28C.03-.42 .12-.5 .25-.5C.38-.5 .5-.4 .5-.22C.5 .08 .12 .3 0 .5Z" fill="#000"/>
<ellipse cx="193.0" cy="485.5" rx="10.8" ry="8.1" fill="none" stroke="#000" stroke-width="2.3"/>
<ellipse cx="271.9" cy="497.6" rx="10.8" ry="8.1" fill="none" stroke="#000" stroke-width="2.3"/>
<ellipse cx="351.4" cy="504.3" rx="10.8" ry="8.1" fill="none" stroke="#000" stroke-width="2.3"/>
<ellipse cx="465.0" cy="532.9" rx="10.8" ry="8.1" fill="none" stroke="#000" stroke-width="2.3"/>
<ellipse cx="604.1" cy="501.5" rx="10.8" ry="8.1" fill="none" stroke="#000" stroke-width="2.3"/>
<ellipse cx="776.6" cy="522.8" rx="10.8" ry="8.1" fill="none" stroke="#000" stroke-width="2.3"/>
<ellipse cx="860.1" cy="525.8" rx="10.8" ry="8.1" fill="none" stroke="#000" stroke-width="2.3"/>
<path transform="translate(562.7,104.3) scale(15,13.4)" d="M0 .5C-.12 .3-.5 .08-.5-.22C-.5-.4-.38-.5-.25-.5C-.12-.5-.03-.42 0-.28C.03-.42 .12-.5 .25-.5C.38-.5 .5-.4 .5-.22C.5 .08 .12 .3 0 .5Z" fill="#000"/>
<text class="s" x="578.2" y="48.3" font-size="23" textLength="20.5" lengthAdjust="spacingAndGlyphs" stroke="#000" stroke-width="0.6">O</text>
<text class="b" x="607.2" y="48.2" font-size="24" textLength="60.5" lengthAdjust="spacingAndGlyphs" xml:space="preserve" stroke="#000" stroke-width="0.3">BaTi</text>
<text class="b" x="667.4" y="56.3" font-size="24.5" textLength="15.6" lengthAdjust="spacingAndGlyphs" xml:space="preserve" stroke="#000" stroke-width="0.3">4</text>
<text class="b" x="683.8" y="48.2" font-size="24" textLength="22.3" lengthAdjust="spacingAndGlyphs" xml:space="preserve" stroke="#000" stroke-width="0.3">O</text>
<text class="b" x="705.6" y="56.3" font-size="24.5" textLength="15.6" lengthAdjust="spacingAndGlyphs" xml:space="preserve" stroke="#000" stroke-width="0.3">9</text>
<text class="b" x="720.5" y="48.2" font-size="24" textLength="73" lengthAdjust="spacingAndGlyphs" xml:space="preserve" stroke="#000" stroke-width="0.3">,(PDF</text>
<text class="r" x="802.3" y="48.2" font-size="24" textLength="15.5" lengthAdjust="spacingAndGlyphs" xml:space="preserve" stroke="#000" stroke-width="0.5">#</text>
<text class="b" x="824.5" y="48.2" font-size="24" textLength="81.5" lengthAdjust="spacingAndGlyphs" xml:space="preserve" stroke="#000" stroke-width="0.3">34-70)</text>
<text class="b" x="580.6" y="109.3" font-size="23.3" textLength="36" lengthAdjust="spacingAndGlyphs" xml:space="preserve" stroke="#000" stroke-width="0.3">Ba</text>
<text class="b" x="615.8" y="117.2" font-size="24.3" textLength="15.6" lengthAdjust="spacingAndGlyphs" xml:space="preserve" stroke="#000" stroke-width="0.3">2</text>
<text class="b" x="632.8" y="109.3" font-size="23.3" textLength="23.5" lengthAdjust="spacingAndGlyphs" xml:space="preserve" stroke="#000" stroke-width="0.3">Ti</text>
<text class="b" x="656.1" y="117.2" font-size="24.3" textLength="15.6" lengthAdjust="spacingAndGlyphs" xml:space="preserve" stroke="#000" stroke-width="0.3">8</text>
<text class="b" x="672.3" y="109.3" font-size="23.3" textLength="22.6" lengthAdjust="spacingAndGlyphs" xml:space="preserve" stroke="#000" stroke-width="0.3">O</text>
<text class="b" x="694.5" y="117.2" font-size="24.3" textLength="29" lengthAdjust="spacingAndGlyphs" xml:space="preserve" stroke="#000" stroke-width="0.3">16</text>
<text class="b" x="723.0" y="109.3" font-size="23.3" textLength="8" lengthAdjust="spacingAndGlyphs" xml:space="preserve" stroke="#000" stroke-width="0.3">,</text>
<text class="b" x="740.6" y="109.3" font-size="23.3" textLength="67.5" lengthAdjust="spacingAndGlyphs" xml:space="preserve" stroke="#000" stroke-width="0.3">(PDF</text>
<text class="r" x="814.3" y="109.3" font-size="23.3" textLength="14.4" lengthAdjust="spacingAndGlyphs" xml:space="preserve" stroke="#000" stroke-width="0.5">#</text>
<text class="b" x="835.0" y="109.3" font-size="23.3" textLength="88" lengthAdjust="spacingAndGlyphs" xml:space="preserve" stroke="#000" stroke-width="0.3">80-916</text>
<text class="r" x="923.5" y="109.3" font-size="23.3" textLength="8.5" lengthAdjust="spacingAndGlyphs" xml:space="preserve" stroke="#000" stroke-width="0.5">)</text>
</svg>
</body></html>
